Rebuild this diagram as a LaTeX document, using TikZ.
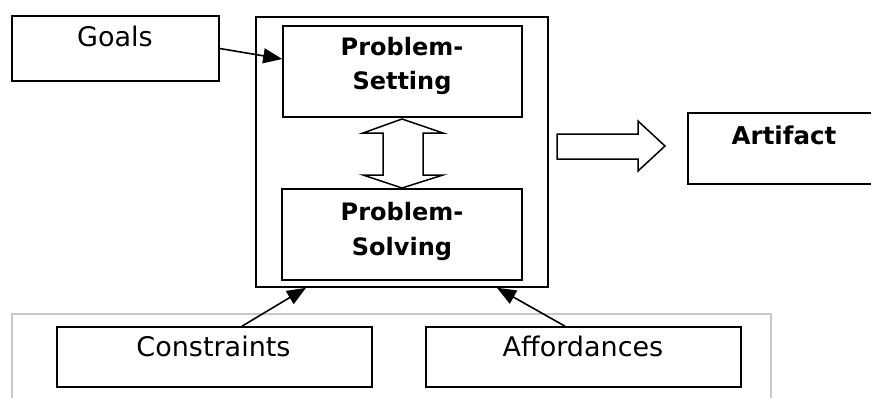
\documentclass[tikz,border=0pt]{standalone}
\usepackage{fontspec}
\setmainfont{DejaVu Sans}
\usetikzlibrary{arrows.meta}
\begin{document}
\begin{tikzpicture}[x=1pt,y=-1pt,
  box/.style={draw,line width=1.6pt,inner sep=0pt},
  reg/.style={font=\fontsize{27}{32}\selectfont,inner sep=0pt,anchor=base},
  bld/.style={font=\fontsize{24}{29}\selectfont\bfseries,inner sep=0pt,anchor=base},
  link/.style={line width=1.6pt,-{Triangle[length=19pt,width=15pt]}},
  hollow/.style={draw,line width=1.5pt,line join=miter,fill=white}]
\useasboundingbox (0,0) rectangle (871,397);
\clip (0,0) rectangle (871,397);

% light frame around the lower row
\draw[black!22,line width=1.2pt] (12,420) -- (12,314) -- (771,314) -- (771,420);

% boxes
\node[box,minimum width=207pt,minimum height=65pt] (goals) at (115.5,48.5) {};
\node[box,minimum width=292pt,minimum height=270pt] (outer) at (402,152) {};
\node[box,minimum width=239pt,minimum height=91pt] (set) at (402.5,71.5) {};
\node[box,minimum width=240pt,minimum height=91pt] (solve) at (402,234.5) {};
\node[box,minimum width=315pt,minimum height=60pt] (cons) at (214.5,357) {};
\node[box,minimum width=315pt,minimum height=60pt] (aff) at (583.5,357) {};
\node[box,minimum width=300pt,minimum height=71pt] (art) at (838,148.5) {};

% labels
\node[reg] (goalsT) at (115,46.8) {Goals};
\node[bld] (setA) at (402,55.8) {Problem-};
\node[bld] (setB) at (402,89.8) {Setting};
\node[bld] (solveA) at (402,220.8) {Problem-};
\node[bld] (solveB) at (402,255.8) {Solving};
\node[reg] (consT) at (213.5,356.8) {Constraints};
\node[reg] (affT) at (583,356.8) {Affordances};
\node[bld,font=\fontsize{24.5}{29}\selectfont\bfseries] (artT) at (784,144) {Artifact};

% connectors
\draw[link] (goals.east) -- ([yshift=12.5pt]set.west);
\draw[link] ([xshift=27.5pt]cons.north) -- ([xshift=-96pt]outer.south);
\draw[link] ([xshift=-18.5pt]aff.north) -- ([xshift=95pt]outer.south);

% block arrows
\draw[hollow] (402,119) -- (443,133) -- (423,133) -- (423,175) -- (443,175)
  -- (402,188) -- (363,175) -- (383,175) -- (383,133) -- (363,133) -- cycle;
\draw[hollow] (557,134) -- (638,134) -- (638,121) -- (665,146) -- (638,171)
  -- (638,159) -- (557,159) -- cycle;
\end{tikzpicture}
\end{document}
